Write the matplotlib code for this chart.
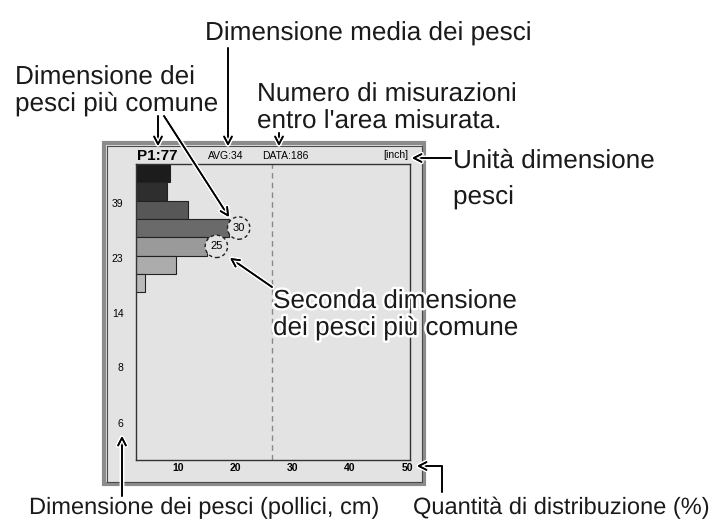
import matplotlib
matplotlib.use("Agg")
import matplotlib.pyplot as plt
import matplotlib.patheffects as pe
from matplotlib.patches import Rectangle

# histogram data
bar_rows = [0.5, 1.5, 2.5, 3.5, 4.5, 5.5, 6.5]
bar_values = [8.6, 8.1, 11.75, 18.9, 15.0, 9.65, 4.24]
bar_colors = ['#1c1c1c', '#2e2e2e', '#575757', '#6a6a6a', '#9a9a9a', '#acacac', '#bababa']
peak_index = [3, 4]
peak_labels = ['30', '25']
avg_line = 26.4

y_tick_pos = [2.13, 5.14, 8.14, 11.09, 14.15]
y_tick_labels = ['39', '23', '14', '8', '6']
x_ticks = [10, 20, 30, 40, 50]

W, H = 714, 521
BG = '#e3e3e3'
FONT = 'Liberation Sans'


def fx(x):
    return x / W


def fy(y):
    return 1 - y / H


halo = [pe.withStroke(linewidth=3.5, foreground='white')]

fig = plt.figure(figsize=(W / 100, H / 100), dpi=100)
fig.patch.set_facecolor('white')

# outer display frame
frame = Rectangle((fx(104), fy(484)), (424 - 104) / W, (484 - 143) / H,
                  transform=fig.transFigure, fc=BG, ec='#8c8c8c', lw=3, zorder=-2)
fig.add_artist(frame)
inner = Rectangle((fx(106.5), fy(481.5)), (421.5 - 106.5) / W, (481.5 - 145.5) / H,
                  transform=fig.transFigure, fc='none', ec='#4a4a4a', lw=0.8, zorder=-1)
fig.add_artist(inner)

ax = fig.add_axes([fx(136), fy(460), (410 - 136) / W, (460 - 164) / H])
ax.set_facecolor(BG)
ax.barh(bar_rows, bar_values, height=1.0, color=bar_colors, edgecolor='#222222', lw=0.8)
ax.axvline(avg_line, color='#888888', lw=1, ls=(0, (4, 3)))
ax.set_xlim(2.66, 50.52)
ax.set_ylim(16.17, 0)
ax.set_xticks(x_ticks)
ax.set_xticklabels([str(t) for t in x_ticks], fontsize=7.5, fontweight='bold', family=FONT)
ax.set_yticks(y_tick_pos)
ax.set_yticklabels(y_tick_labels, fontsize=7.5, family=FONT)
ax.tick_params(length=0)
ax.tick_params(axis='y', pad=9)
ax.tick_params(axis='x', pad=2)
for s in ax.spines.values():
    s.set_color('#333333')
    s.set_linewidth(1)

for i, lab in zip(peak_index, peak_labels):
    t = ax.annotate(lab, (bar_values[i], bar_rows[i]), xytext=(7, 0), textcoords='offset points',
                    ha='center', va='center', fontsize=8, family=FONT,
                    bbox=dict(boxstyle='circle,pad=0.45', fc=BG, ec='#222222', ls=(0, (2.5, 2)), lw=1))

# header line of the display
fig.text(fx(137), fy(156), 'P1:77', fontsize=11, fontweight='bold', family=FONT, va='center')
fig.text(fx(208), fy(156), 'AVG:34', fontsize=7.5, family=FONT, va='center')
fig.text(fx(262), fy(156), 'DATA:186', fontsize=7.5, family=FONT, va='center')
fig.text(fx(383), fy(155), '[inch]', fontsize=7.5, family=FONT, va='center')

# callout texts: x, baseline y, text, size
callouts = [
    (205, 40, 'Dimensione media dei pesci', 18.8),
    (15, 84, 'Dimensione dei', 18.8),
    (15, 111, 'pesci più comune', 18.8),
    (257, 101, 'Numero di misurazioni', 18.8),
    (257, 128, "entro l'area misurata.", 18.8),
    (453, 168, 'Unità dimensione', 18.8),
    (453, 204, 'pesci', 18.8),
    (273, 308, 'Seconda dimensione', 18.8),
    (273, 335, 'dei pesci più comune', 18.8),
    (29, 514, 'Dimensione dei pesci (pollici, cm)', 17),
    (413, 514, 'Quantità di distribuzione (%)', 17),
]
for x, y, s, size in callouts:
    t = fig.text(fx(x), fy(y), s, fontsize=size, family=FONT, color='#1a1a1a', va='baseline')
    t.set_path_effects(halo)


def arrow(x0, y0, x1, y1, conn='arc3'):
    a = ax.annotate('', xy=(fx(x1), fy(y1)), xycoords='figure fraction',
                    xytext=(fx(x0), fy(y0)), textcoords='figure fraction',
                    annotation_clip=False,
                    arrowprops=dict(arrowstyle='->,head_length=0.55,head_width=0.28',
                                    lw=1.2, color='black', shrinkA=0, shrinkB=0,
                                    connectionstyle=conn))
    a.arrow_patch.set_path_effects(halo + [pe.Normal()])
    a.arrow_patch.set_clip_on(False)


arrow(158, 116, 158, 146)
arrow(164, 116, 229, 217)
arrow(228, 48, 228, 146)
arrow(279, 133, 279, 146)
arrow(451, 158, 412, 158)
arrow(272, 287, 230, 258)
arrow(122, 496, 122, 436)
arrow(442, 492, 417, 466, conn='angle,angleA=90,angleB=0,rad=0')

fig.savefig('out.png', dpi=100)
